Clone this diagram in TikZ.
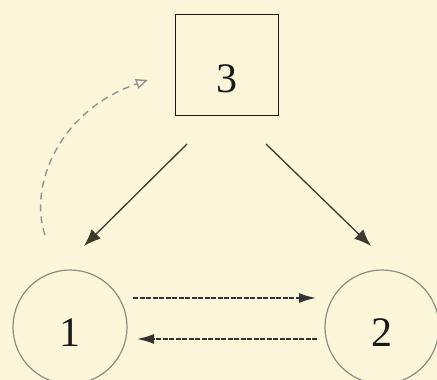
\documentclass[tikz,border=0pt]{standalone}
\usepackage{fontspec}
\setmainfont{Liberation Serif}
\usetikzlibrary{arrows.meta}
\definecolor{bgc}{RGB}{251,246,218}
\definecolor{linec}{RGB}{60,60,45}
\definecolor{circc}{RGB}{140,140,128}
\begin{document}
\begin{tikzpicture}[x=1pt,y=-1pt,
  statebox/.style={draw=black!90,line width=1.8pt,minimum width=103pt,minimum height=101pt,inner sep=0pt},
  statecirc/.style={circle,draw=circc,line width=1.2pt,minimum size=114pt,inner sep=0pt},
  numtext/.style={font=\fontsize{42}{42}\selectfont,text=black!90},
  solidarr/.style={draw=linec,line width=1.3pt,-{Latex[length=17pt,width=13pt]}},
  dotarr/.style={draw=black!80,line width=1.6pt,dash pattern=on 5pt off 1.5pt,-{Latex[length=17pt,width=10pt]}},
  curvarr/.style={draw=gray!85,line width=1.4pt,dash pattern=on 7pt off 5pt,-{Triangle[open,length=12pt,width=10pt]}}]
\fill[bgc] (0,0) rectangle (437,380);
\useasboundingbox (0,0) rectangle (437,380);
\node[statebox] (n3) at (227,65) {};
\node[numtext] at (227,79) (t3) {3};
\node[statecirc] (n1) at (70,327) {};
\node[statecirc] (n2) at (382,327) {};
\node[numtext] (t1) at (70,333) {1};
\node[numtext] (t2) at (382,333) {2};
\coordinate (a1s) at (187,144);
\coordinate (a1e) at (84,246);
\coordinate (a2s) at (266,144);
\coordinate (a2e) at (371,246);
\draw[solidarr] (a1s) -- (a1e);
\draw[solidarr] (a2s) -- (a2e);
\coordinate (b1s) at (133,298);
\coordinate (b1e) at (316,298);
\coordinate (b2s) at (317,339);
\coordinate (b2e) at (137,339);
\draw[dotarr] (b1s) -- (b1e);
\draw[dotarr] (b2s) -- (b2e);
\coordinate (cs) at (45,235);
\coordinate (ce) at (148,80);
\draw[curvarr] (cs) .. controls (28,185) and (60,110) .. (ce);
\end{tikzpicture}
\end{document}
